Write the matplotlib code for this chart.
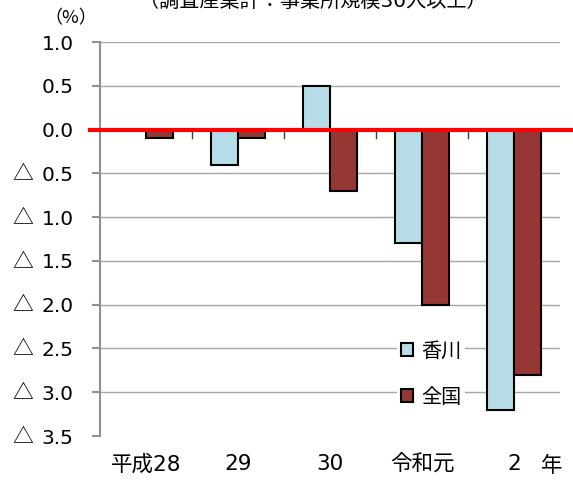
import numpy as np
import matplotlib.pyplot as plt
import matplotlib.transforms as mtransforms

plt.rcParams['font.family'] = ['DejaVu Sans', 'Noto Sans CJK JP']

years = ['平成28', '29', '30', '令和元', '2']
kagawa = [0.0, -0.4, 0.5, -1.3, -3.2]
zenkoku = [-0.1, -0.1, -0.7, -2.0, -2.8]
yticks = [1.0, 0.5, 0.0, -0.5, -1.0, -1.5, -2.0, -2.5, -3.0, -3.5]

fig = plt.figure(figsize=(5.73, 4.87), dpi=100)
ax = fig.add_axes([100 / 573, 1 - 436 / 487, 460 / 573, 394 / 487])

x = np.arange(len(years))
w = 0.29
ax.bar(x - w / 2, kagawa, w, color='#B7DEE8', edgecolor='black', linewidth=1.5,
       label='香川', zorder=3)
ax.bar(x + w / 2, zenkoku, w, color='#953735', edgecolor='black', linewidth=1.5,
       label='全国', zorder=3)

ax.set_xlim(-0.5, len(years) - 0.5)
ax.set_ylim(-3.5, 1.0)

# horizontal gridlines, red zero line
for v in yticks[:-1]:
    if v != 0:
        ax.axhline(v, color='#A6A6A6', linewidth=1, zorder=1)
ax.axhline(0, xmin=-0.022, xmax=1.03, color='#FF0000', linewidth=3,
           zorder=4, clip_on=False)
# category separators on the zero line
for b in np.arange(0.5, len(years) - 1, 1.0):
    ax.plot([b, b], [-0.1, 0.0], color='#404040', linewidth=1, zorder=2)

for s in ['top', 'right', 'bottom']:
    ax.spines[s].set_visible(False)
ax.spines['left'].set_color('#909090')
ax.spines['left'].set_linewidth(1.5)

ax.set_yticks(yticks)
ax.set_yticklabels([f'{abs(v):.1f}' for v in yticks], fontsize=14.5)
ax.tick_params(axis='y', direction='out', length=6, width=1.5, color='#909090', pad=13)
# negative values are marked with a triangle in front of the number
trans = mtransforms.blended_transform_factory(ax.transAxes, ax.transData)
for v in yticks:
    if v < 0:
        ax.text(-0.168, v, '△', transform=trans, fontsize=15,
                family='Noto Sans CJK JP', ha='center', va='center')
ax.set_xticks(x)
ax.set_xticklabels(years, fontsize=15.5)
ax.tick_params(axis='x', length=0, pad=13)

fig.text(552 / 573, 1 - 466 / 487, '年', fontsize=15.5, ha='center', va='center')
fig.text(71 / 573, 1 - 18 / 487, '（%）', fontsize=13, ha='center', va='center',
         family='Noto Sans CJK JP')
fig.text(313 / 573, 1 - 1 / 487, '（調査産業計：事業所規模30人以上）', fontsize=14.5,
         ha='center', va='center')

leg = ax.legend(loc='upper left', bbox_to_anchor=(0.645, 0.25), fontsize=14.5,
                handlelength=0.6, handleheight=0.6, handletextpad=0.4,
                labelspacing=1.35, borderpad=0.2, borderaxespad=0,
                frameon=True, fancybox=False)
leg.get_frame().set_edgecolor('none')
leg.get_frame().set_facecolor('white')
leg.get_frame().set_alpha(1)

fig.savefig('out.png', dpi=100)
